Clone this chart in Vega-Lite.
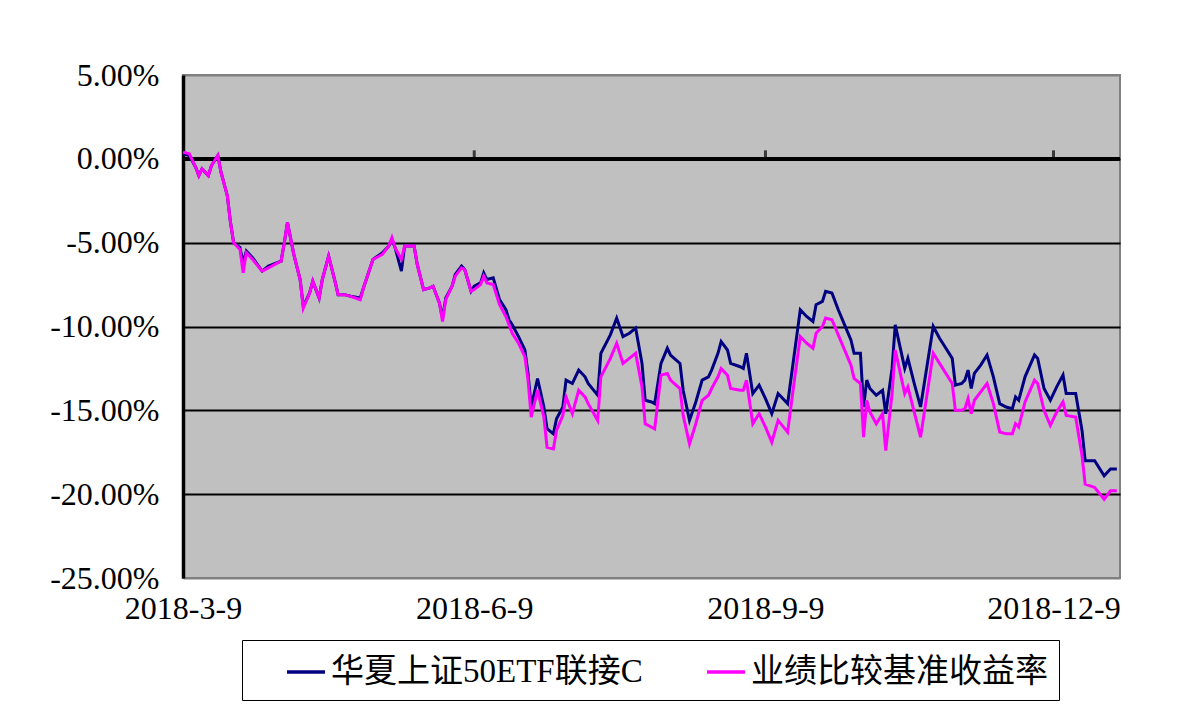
{
  "$schema": "https://vega.github.io/schema/vega-lite/v6.json",
  "autosize": {"type": "none"},
  "width": 937,
  "height": 503,
  "padding": {"left": 183, "top": 75, "right": 80, "bottom": 131},
  "background": "white",
  "config": {
    "view": {"fill": "#C0C0C0", "stroke": "#808080", "strokeWidth": 2},
    "font": "Liberation Serif"
  },
  "data": {"values": [
    {"d":"2018-03-09","n":0.3,"p":0.4},{"d":"2018-03-11","n":0.2,"p":0.3},{"d":"2018-03-13","n":-0.5,"p":-0.5},{"d":"2018-03-14","n":-1.0,"p":-1.0},{"d":"2018-03-15","n":-0.6,"p":-0.6},{"d":"2018-03-17","n":-1.0,"p":-1.0},{"d":"2018-03-18","n":-0.4,"p":-0.4},{"d":"2018-03-20","n":0.2,"p":0.2},{"d":"2018-03-21","n":-0.8,"p":-0.8},{"d":"2018-03-23","n":-2.2,"p":-2.2},{"d":"2018-03-24","n":-3.8,"p":-3.8},{"d":"2018-03-25","n":-5.0,"p":-5.0},{"d":"2018-03-27","n":-5.3,"p":-5.4},{"d":"2018-03-28","n":-6.2,"p":-6.8},{"d":"2018-03-29","n":-5.5,"p":-5.6},{"d":"2018-03-31","n":-5.9,"p":-6.0},
    {"d":"2018-04-03","n":-6.7,"p":-6.7},{"d":"2018-04-05","n":-6.4,"p":-6.5},{"d":"2018-04-09","n":-6.1,"p":-6.1},{"d":"2018-04-10","n":-5.0,"p":-5.0},{"d":"2018-04-11","n":-3.8,"p":-3.8},{"d":"2018-04-13","n":-5.7,"p":-5.7},{"d":"2018-04-15","n":-7.2,"p":-7.2},{"d":"2018-04-16","n":-8.8,"p":-8.9},{"d":"2018-04-18","n":-8.0,"p":-8.0},{"d":"2018-04-19","n":-7.3,"p":-7.3},{"d":"2018-04-21","n":-8.3,"p":-8.3},{"d":"2018-04-22","n":-7.2,"p":-7.2},{"d":"2018-04-24","n":-5.8,"p":-5.8},{"d":"2018-04-26","n":-7.3,"p":-7.3},{"d":"2018-04-27","n":-8.1,"p":-8.1},{"d":"2018-04-29","n":-8.1,"p":-8.1},
    {"d":"2018-05-01","n":-8.2,"p":-8.2},{"d":"2018-05-04","n":-8.3,"p":-8.4},{"d":"2018-05-05","n":-7.7,"p":-7.7},{"d":"2018-05-08","n":-6.0,"p":-6.0},{"d":"2018-05-11","n":-5.6,"p":-5.7},{"d":"2018-05-13","n":-5.2,"p":-5.2},{"d":"2018-05-14","n":-4.8,"p":-4.7},{"d":"2018-05-15","n":-5.3,"p":-5.3},{"d":"2018-05-17","n":-6.7,"p":-6.0},{"d":"2018-05-18","n":-5.2,"p":-5.2},{"d":"2018-05-21","n":-5.2,"p":-5.2},{"d":"2018-05-22","n":-6.3,"p":-6.3},{"d":"2018-05-24","n":-7.8,"p":-7.8},{"d":"2018-05-26","n":-7.7,"p":-7.7},{"d":"2018-05-27","n":-7.6,"p":-7.6},{"d":"2018-05-29","n":-8.6,"p":-8.6},{"d":"2018-05-30","n":-9.5,"p":-9.7},{"d":"2018-05-31","n":-8.3,"p":-8.4},
    {"d":"2018-06-02","n":-7.6,"p":-7.6},{"d":"2018-06-03","n":-6.9,"p":-7.0},{"d":"2018-06-05","n":-6.4,"p":-6.5},{"d":"2018-06-06","n":-6.6,"p":-6.6},{"d":"2018-06-08","n":-7.9,"p":-7.9},{"d":"2018-06-09","n":-7.6,"p":-7.8},{"d":"2018-06-11","n":-7.4,"p":-7.5},{"d":"2018-06-12","n":-6.8,"p":-7.0},{"d":"2018-06-13","n":-7.2,"p":-7.4},{"d":"2018-06-15","n":-7.1,"p":-7.5},{"d":"2018-06-17","n":-8.4,"p":-8.7},{"d":"2018-06-19","n":-9.0,"p":-9.4},{"d":"2018-06-20","n":-9.6,"p":-9.9},{"d":"2018-06-21","n":-9.9,"p":-10.4},{"d":"2018-06-23","n":-10.6,"p":-11.0},{"d":"2018-06-25","n":-11.4,"p":-11.8},{"d":"2018-06-26","n":-12.8,"p":-13.2},{"d":"2018-06-27","n":-14.8,"p":-15.4},{"d":"2018-06-29","n":-13.1,"p":-13.8},
    {"d":"2018-07-01","n":-14.8,"p":-15.4},{"d":"2018-07-02","n":-16.1,"p":-17.2},{"d":"2018-07-04","n":-16.4,"p":-17.3},{"d":"2018-07-05","n":-15.5,"p":-16.2},{"d":"2018-07-07","n":-14.8,"p":-15.3},{"d":"2018-07-08","n":-13.2,"p":-14.2},{"d":"2018-07-10","n":-13.4,"p":-15.2},{"d":"2018-07-12","n":-12.6,"p":-13.8},{"d":"2018-07-14","n":-13.0,"p":-14.2},{"d":"2018-07-15","n":-13.4,"p":-14.6},{"d":"2018-07-18","n":-14.1,"p":-15.6},{"d":"2018-07-19","n":-11.6,"p":-13.0},{"d":"2018-07-22","n":-10.5,"p":-11.9},{"d":"2018-07-24","n":-9.5,"p":-11.0},{"d":"2018-07-26","n":-10.6,"p":-12.2},{"d":"2018-07-28","n":-10.4,"p":-11.9},{"d":"2018-07-30","n":-10.1,"p":-11.6},
    {"d":"2018-08-01","n":-12.2,"p":-13.6},{"d":"2018-08-02","n":-14.4,"p":-15.8},{"d":"2018-08-04","n":-14.5,"p":-16.0},{"d":"2018-08-05","n":-14.6,"p":-16.1},{"d":"2018-08-07","n":-12.2,"p":-12.9},{"d":"2018-08-09","n":-11.3,"p":-12.8},{"d":"2018-08-10","n":-11.7,"p":-13.2},{"d":"2018-08-13","n":-12.2,"p":-13.7},{"d":"2018-08-14","n":-13.8,"p":-15.3},{"d":"2018-08-16","n":-15.6,"p":-17.0},{"d":"2018-08-18","n":-14.5,"p":-15.8},{"d":"2018-08-20","n":-13.2,"p":-14.4},{"d":"2018-08-22","n":-13.0,"p":-14.1},{"d":"2018-08-23","n":-12.6,"p":-13.7},{"d":"2018-08-25","n":-11.6,"p":-13.0},{"d":"2018-08-26","n":-10.9,"p":-12.5},{"d":"2018-08-28","n":-11.4,"p":-12.9},{"d":"2018-08-29","n":-12.2,"p":-13.7},
    {"d":"2018-09-01","n":-12.4,"p":-13.8},{"d":"2018-09-02","n":-12.5,"p":-13.8},{"d":"2018-09-03","n":-11.6,"p":-13.2},{"d":"2018-09-05","n":-14.0,"p":-15.8},{"d":"2018-09-07","n":-13.5,"p":-15.2},{"d":"2018-09-09","n":-14.3,"p":-16.0},{"d":"2018-09-11","n":-15.2,"p":-16.9},{"d":"2018-09-13","n":-14.0,"p":-15.6},{"d":"2018-09-16","n":-14.6,"p":-16.3},{"d":"2018-09-18","n":-11.8,"p":-13.4},{"d":"2018-09-20","n":-9.0,"p":-10.6},{"d":"2018-09-22","n":-9.4,"p":-11.0},{"d":"2018-09-24","n":-9.7,"p":-11.3},{"d":"2018-09-25","n":-8.7,"p":-10.4},{"d":"2018-09-27","n":-8.5,"p":-10.0},{"d":"2018-09-28","n":-7.9,"p":-9.5},{"d":"2018-09-30","n":-8.0,"p":-9.6},
    {"d":"2018-10-02","n":-9.0,"p":-10.5},{"d":"2018-10-04","n":-9.9,"p":-11.4},{"d":"2018-10-06","n":-10.8,"p":-12.3},{"d":"2018-10-07","n":-11.6,"p":-13.1},{"d":"2018-10-09","n":-11.6,"p":-13.4},{"d":"2018-10-10","n":-14.8,"p":-16.6},{"d":"2018-10-11","n":-13.2,"p":-14.4},{"d":"2018-10-12","n":-13.7,"p":-15.1},{"d":"2018-10-14","n":-14.1,"p":-15.8},{"d":"2018-10-16","n":-13.8,"p":-15.2},{"d":"2018-10-17","n":-15.2,"p":-17.4},{"d":"2018-10-19","n":-12.5,"p":-14.0},{"d":"2018-10-20","n":-9.9,"p":-11.4},{"d":"2018-10-23","n":-12.5,"p":-14.0},{"d":"2018-10-24","n":-11.9,"p":-13.6},{"d":"2018-10-26","n":-13.4,"p":-15.1},{"d":"2018-10-28","n":-14.8,"p":-16.6},{"d":"2018-10-30","n":-12.4,"p":-14.1},
    {"d":"2018-11-01","n":-10.0,"p":-11.6},{"d":"2018-11-03","n":-10.7,"p":-12.2},{"d":"2018-11-05","n":-11.3,"p":-12.8},{"d":"2018-11-07","n":-11.9,"p":-13.4},{"d":"2018-11-08","n":-13.5,"p":-15.0},{"d":"2018-11-10","n":-13.4,"p":-15.0},{"d":"2018-11-11","n":-13.2,"p":-14.9},{"d":"2018-11-12","n":-12.6,"p":-14.3},{"d":"2018-11-13","n":-13.7,"p":-15.2},{"d":"2018-11-14","n":-12.8,"p":-14.4},{"d":"2018-11-16","n":-12.3,"p":-13.9},{"d":"2018-11-18","n":-11.7,"p":-13.4},{"d":"2018-11-20","n":-13.0,"p":-14.6},{"d":"2018-11-22","n":-14.6,"p":-16.3},{"d":"2018-11-24","n":-14.8,"p":-16.4},{"d":"2018-11-26","n":-14.9,"p":-16.4},{"d":"2018-11-27","n":-14.2,"p":-15.8},{"d":"2018-11-28","n":-14.4,"p":-16.0},{"d":"2018-11-30","n":-13.0,"p":-14.5},
    {"d":"2018-12-03","n":-11.7,"p":-13.2},{"d":"2018-12-04","n":-11.9,"p":-13.4},{"d":"2018-12-06","n":-13.7,"p":-15.0},{"d":"2018-12-08","n":-14.4,"p":-15.9},{"d":"2018-12-10","n":-13.6,"p":-15.1},{"d":"2018-12-12","n":-12.9,"p":-14.5},{"d":"2018-12-13","n":-14.0,"p":-15.3},{"d":"2018-12-16","n":-14.0,"p":-15.4},{"d":"2018-12-18","n":-16.2,"p":-17.7},{"d":"2018-12-19","n":-18.0,"p":-19.4},{"d":"2018-12-22","n":-18.0,"p":-19.6},{"d":"2018-12-25","n":-18.9,"p":-20.3},{"d":"2018-12-27","n":-18.5,"p":-19.8},{"d":"2018-12-29","n":-18.5,"p":-19.8}
  ]},
  "encoding": {
    "x": {
      "field": "d", "type": "temporal",
      "scale": {"type": "utc", "domain": [{"year": 2018, "month": 3, "date": 9, "utc": true}, {"year": 2018, "month": 12, "date": 30, "utc": true}]},
      "axis": {
        "title": null, "domain": false, "ticks": false, "grid": false,
        "values": [{"year": 2018, "month": 3, "date": 9, "utc": true}, {"year": 2018, "month": 6, "date": 9, "utc": true}, {"year": 2018, "month": 9, "date": 9, "utc": true}, {"year": 2018, "month": 12, "date": 9, "utc": true}],
        "labelExpr": "utcFormat(datum.value, '%Y-%-m-%-d')",
        "labelFlush": false, "labelOverlap": false, "labelBound": false,
        "labelFont": "Liberation Serif", "labelFontSize": 32, "labelColor": "black", "labelPadding": 15
      }
    }
  },
  "layer": [
    {
      "mark": {"type": "rule", "color": "black", "strokeWidth": 3.5},
      "encoding": {"y": {"datum": 0, "type": "quantitative"}, "x": null}
    },
    {
      "data": {"values": [{"t": "2018-06-09"}, {"t": "2018-09-09"}, {"t": "2018-12-09"}]},
      "mark": {"type": "tick", "orient": "vertical", "size": 9, "thickness": 3, "color": "black", "yOffset": -4},
      "encoding": {
        "x": {"field": "t", "type": "temporal"},
        "y": {"datum": 0, "type": "quantitative"}
      }
    },
    {
      "mark": {"type": "line", "strokeWidth": 3, "interpolate": "linear"},
      "encoding": {
        "y": {
          "field": "n", "type": "quantitative",
          "scale": {"domain": [-25, 5], "nice": false, "zero": false},
          "axis": {
            "title": null, "values": [5, 0, -5, -10, -15, -20, -25],
            "labelExpr": "replace(format(datum.value, '.2f'), '\u2212', '-') + '%'",
            "grid": true,
            "gridColor": {"condition": {"test": "datum.value == 5 || datum.value == -25", "value": "#808080"}, "value": "black"},
            "gridWidth": 1.8, "gridOpacity": 1,
            "domain": true, "domainColor": "black", "domainWidth": 3.5,
            "ticks": false, "labelPadding": 24,
            "labelFont": "Liberation Serif", "labelFontSize": 32, "labelColor": "black"
          }
        },
        "color": {
          "datum": "华夏上证50ETF联接C",
          "type": "nominal",
          "scale": {"domain": ["华夏上证50ETF联接C", "业绩比较基准收益率"], "range": ["#000080", "#FF00FF"]},
          "legend": {
            "title": null, "orient": "none", "legendX": 59, "legendY": 565,
            "direction": "horizontal",
            "strokeColor": "black", "padding": 11,
            "symbolType": "stroke", "symbolSize": 1440, "symbolStrokeWidth": 3.5,
            "symbolOffset": 32, "columnPadding": 30,
            "labelFont": "Liberation Serif, Noto Sans CJK SC", "labelFontSize": 33, "labelColor": "black", "labelLimit": 0
          }
        }
      }
    },
    {
      "mark": {"type": "line", "strokeWidth": 3, "interpolate": "linear"},
      "encoding": {
        "y": {"field": "p", "type": "quantitative"},
        "color": {"datum": "业绩比较基准收益率", "type": "nominal"}
      }
    }
  ]
}
